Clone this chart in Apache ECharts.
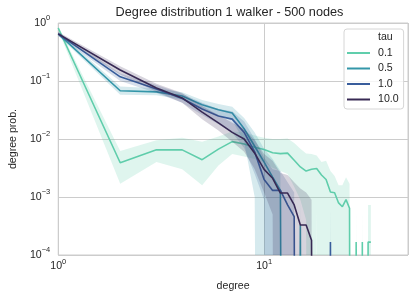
<!DOCTYPE html>
<html><head><meta charset="utf-8">
<script src="https://cdn.jsdelivr.net/npm/echarts@6/dist/echarts.min.js"></script>
<style>html,body{margin:0;padding:0;background:#fff}#c{width:416px;height:300px}</style>
</head><body><div id="c"></div>
<script>
// ---- data ----
const degree = [1,2,3,4,5,6,7,8,9,10,11,12,13,14,15,16,17,18,19,20,21,22,23,24,25,26,27,28,29,30,31,32,33];
const tauLabels = ['0.1','0.5','1.0','10.0'];

const meanTau01 = [0.82,0.0039,0.0065,0.0065,0.0044,0.0067,0.009,0.0082,0.0072,0.0066,0.0058,0.0056,0.0057,0.0043,0.0033,0.0028,0.003,0.0031,0.0024,0.002,0.00122,0.00118,0.00079,0.00068,0.0009,0.00064,0,0.000167,0,0.000167,0,0.000167,0.000167];
const loTau01   = [0.76,0.0017,0.004,0.003,0.0016,0.0035,0.0055,0.005,0.0045,0.004,0.0032,0.0028,0.0025,0.0015,0.0009,0.0004,0,0.0006,0,0,0,0,0,0,0,0,0,0,0,0,0,0,0];
const hiTau01   = [0.88,0.0062,0.0095,0.0105,0.009,0.011,0.0135,0.013,0.0115,0.0105,0.01,0.01,0.0102,0.0085,0.0068,0.0056,0.0055,0.0052,0.004,0.0042,0.0028,0.0023,0.0016,0.0016,0.0022,0.0017,0,0.00073,0,0.00073,0,0.00073,0.00073];

const meanTau05 = [0.65,0.068,0.065,0.055,0.039,0.032,0.028,0.015,0.0075,0.004,0.0022,0.0013,0,0,0.00033,0,0,0,0,0,0,0,0,0,0,0,0,0,0,0,0,0,0];
const loTau05   = [0.6,0.058,0.057,0.048,0.033,0.026,0.021,0.009,0.001,0,0,0,0,0,0,0,0,0,0,0,0,0,0,0,0,0,0,0,0,0,0,0,0];
const hiTau05   = [0.7,0.08,0.075,0.064,0.047,0.04,0.036,0.023,0.013,0.0068,0.0045,0.0028,0,0,0.0009,0,0,0,0,0,0,0,0,0,0,0,0,0,0,0,0,0,0];

const meanTau1  = [0.65,0.118,0.073,0.05,0.033,0.025,0.022,0.013,0.006,0.002,0.0013,0.0013,0.00073,0.00046,0,0,0,0,0,0,0.000167,0,0,0,0,0,0,0,0,0,0,0,0];
const loTau1    = [0.6,0.1,0.062,0.042,0.026,0.018,0.013,0.007,0.0025,0.0009,0,0,0,0,0,0,0,0,0,0,0,0,0,0,0,0,0,0,0,0,0,0,0];
const hiTau1    = [0.7,0.135,0.085,0.06,0.042,0.033,0.03,0.02,0.01,0.0048,0.003,0.0028,0.0018,0.0012,0,0,0,0,0,0,0.00073,0,0,0,0,0,0,0,0,0,0,0,0];

const meanTau10 = [0.65,0.155,0.076,0.051,0.029,0.019,0.013,0.01,0.0057,0.003,0.0021,0.00117,0.00117,0.00073,0.00033,0.00033,0.00018,0,0,0,0,0,0,0,0,0,0,0,0,0,0,0,0];
const loTau10   = [0.6,0.13,0.065,0.042,0.022,0.014,0.009,0.006,0.003,0.0012,0.0005,0,0,0,0,0,0,0,0,0,0,0,0,0,0,0,0,0,0,0,0,0,0];
const hiTau10   = [0.7,0.18,0.09,0.062,0.037,0.026,0.019,0.015,0.0095,0.0055,0.0042,0.0026,0.0024,0.0018,0.0014,0.0012,0.0009,0,0,0,0,0,0,0,0,0,0,0,0,0,0,0,0];

// ---- styles ----
const colors = ['#60CEAC','#3497A9','#395D9C','#382A54'];
const FONT = 'Liberation Sans, Arial, sans-serif';
const TXT = '#262626';

const groups = [
  [meanTau01, loTau01, hiTau01],
  [meanTau05, loTau05, hiTau05],
  [meanTau1,  loTau1,  hiTau1],
  [meanTau10, loTau10, hiTau10]
];
// zero values sit at -infinity on a log axis: push them far below the visible range
const pos = v => (v > 0 ? v : 1e-30);

const series = [];
groups.forEach((g, k) => {
  const [mean, lo, hi] = g;
  series.push({
    name: tauLabels[k], type: 'line', symbol: 'none', showSymbol: false, clip: true, silent: true,
    z: 2 + 2 * k,
    lineStyle: { color: colors[k], width: 1.6 },
    itemStyle: { color: colors[k] },
    data: degree.map((d, i) => [d, pos(mean[i])])
  });
  series.push({
    type: 'custom', silent: true, z: 3 + 2 * k,
    encode: { x: 0, y: [1, 2] },
    data: degree.map((d, i) => [d, pos(lo[i]), pos(hi[i])]),
    renderItem: function (params, api) {
      if (params.dataIndex !== 0) return null;
      const n = degree.length;
      const up = [], dn = [];
      for (let i = 0; i < n; i++) {
        up.push(api.coord([api.value(0, i), api.value(2, i)]));
        dn.push(api.coord([api.value(0, i), api.value(1, i)]));
      }
      const pts = up.concat(dn.reverse());
      const cs = params.coordSys;
      return {
        type: 'polygon',
        shape: { points: pts },
        style: { fill: colors[k], opacity: 0.2, stroke: null },
        clipPath: { type: 'rect', shape: { x: cs.x, y: cs.y, width: cs.width, height: cs.height } }
      };
    }
  });
});
series.push({ name: 'tau', type: 'line', data: [], symbol: 'none' });

function powLabel(v) {
  const e = Math.log10(v);
  const r = Math.round(e);
  if (Math.abs(e - r) > 1e-6) return '';
  const s = String(r).replace('-', '\u2212');
  return '{b|10}{s|' + s + '}';
}
const rich = {
  b: { fontSize: 10.6, fontFamily: FONT, color: TXT, lineHeight: 11, verticalAlign: 'middle' },
  s: { fontSize: 7.5, fontFamily: FONT, color: TXT, lineHeight: 8, padding: [0, 0, 10, 0], verticalAlign: 'middle' }
};

const legendItems = [{ name: 'tau', icon: 'none' }].concat(
  tauLabels.map((t, k) => ({ name: t, icon: 'rect', itemStyle: { color: colors[k] } }))
);

const chart = echarts.init(document.getElementById('c'), null, { renderer: 'canvas' });
chart.setOption({
  animation: false,
  backgroundColor: '#fff',
  title: {
    text: 'Degree distribution 1 walker - 500 nodes',
    left: 229.5, top: 6, padding: 0, textAlign: 'center',
    textStyle: { fontSize: 12.7, fontWeight: 'normal', fontFamily: FONT, color: TXT }
  },
  grid: { left: 51, right: 8, top: 23, bottom: 45, show: true, borderColor: '#cccccc', borderWidth: 1, backgroundColor: 'transparent' },
  legend: {
    orient: 'vertical', left: 344, top: 29,
    padding: [3, 5, 4, 3],
    itemWidth: 23, itemHeight: 2, itemGap: 4.5,
    selectedMode: false, z: 20,
    backgroundColor: 'rgba(255,255,255,0.8)', borderColor: '#d6d6d6', borderWidth: 1, borderRadius: 3,
    textStyle: { fontSize: 10.6, fontFamily: FONT, color: TXT, padding: [0, 0, 0, 3] },
    data: legendItems
  },
  xAxis: {
    type: 'log', logBase: 10, min: 1, max: 50,
    name: 'degree', nameLocation: 'middle', nameGap: 24,
    nameTextStyle: { fontSize: 10.6, fontFamily: FONT, color: TXT },
    axisLine: { show: false }, axisTick: { show: false },
    axisLabel: { margin: 6, formatter: powLabel, rich: rich, showMinLabel: true, showMaxLabel: true, hideOverlap: false },
    splitLine: { show: true, lineStyle: { color: '#cccccc', width: 1 } },
    minorTick: { show: false }, minorSplitLine: { show: false }
  },
  yAxis: {
    type: 'log', logBase: 10, min: 1e-4, max: 1,
    name: 'degree prob.', nameLocation: 'middle', nameGap: 34, nameRotate: 90,
    nameTextStyle: { fontSize: 10.6, fontFamily: FONT, color: TXT },
    axisLine: { show: false }, axisTick: { show: false },
    axisLabel: { margin: 8, formatter: powLabel, rich: rich, showMinLabel: true, showMaxLabel: true, hideOverlap: false },
    splitLine: { show: true, lineStyle: { color: '#cccccc', width: 1 } }
  },
  series: series
});
</script>
</body></html>
